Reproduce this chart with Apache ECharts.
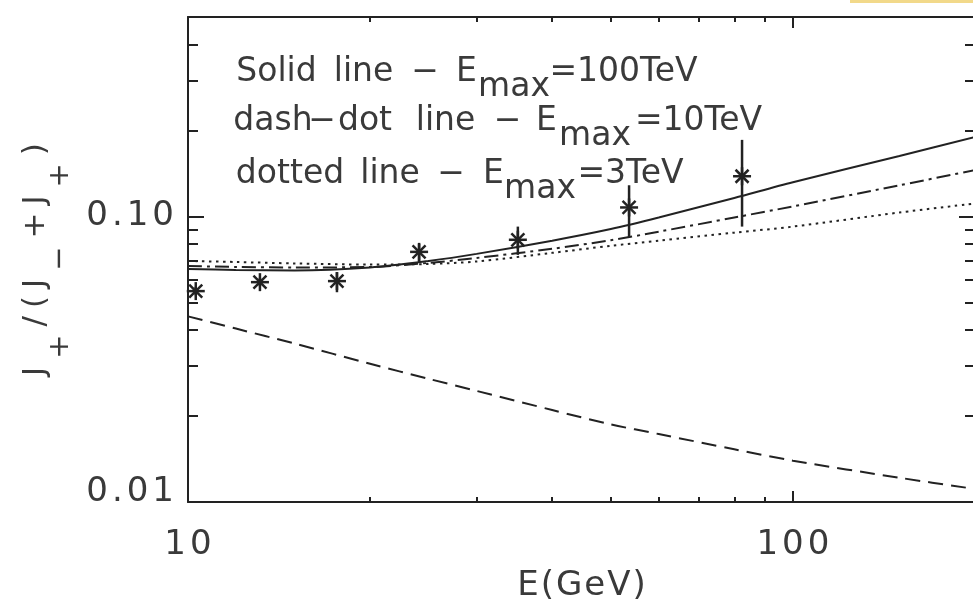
<!DOCTYPE html>
<html><head><meta charset="utf-8">
<script src="https://cdn.jsdelivr.net/npm/echarts@6/dist/echarts.min.js"></script>
<style>html,body{margin:0;padding:0;background:#fff}#c{width:973px;height:608px}</style>
</head><body><div id="c"></div>
<script>
// ---- data ----
const energies = [10, 12, 15, 20, 25, 30, 40, 50, 60, 80, 100, 150, 200];
const solidLine = [0.0655, 0.0650, 0.0647, 0.0663, 0.0699, 0.0740, 0.0823, 0.0904, 0.0992, 0.1162, 0.1319, 0.163, 0.190];
const dashDotLine = [0.0671, 0.0666, 0.0663, 0.0666, 0.0688, 0.0716, 0.0771, 0.0826, 0.0885, 0.0992, 0.1085, 0.1287, 0.1454];
const dottedLine = [0.0699, 0.0693, 0.0685, 0.0679, 0.0682, 0.0696, 0.0746, 0.0790, 0.0823, 0.0878, 0.0922, 0.1033, 0.1111];
const dashedLine = [0.0447, 0.0405, 0.0359, 0.0305, 0.0270, 0.0245, 0.0210, 0.0187, 0.0173, 0.0153, 0.01396, 0.01216, 0.01111];
const pointE = [10.3, 13.15, 17.63, 24.1, 35.1, 53.6, 82.4];
const pointRatio = [0.0548, 0.0589, 0.0594, 0.0752, 0.0829, 0.1076, 0.1384];
const pointLow = [0.0530, 0.0570, 0.0543, 0.0693, 0.0734, 0.0843, 0.0922];
const pointHigh = [0.0567, 0.0610, 0.0639, 0.0803, 0.0922, 0.1287, 0.1856];
const xMajorTicks = [10, 100];
const xTickLabels = ['10', '100'];
const xMinorTicks = [20, 30, 40, 50, 60, 70, 80, 90, 200];
const yMajorTicks = [0.01, 0.1];
const yTickLabels = ['0.01', '0.10'];
const yMinorTicks = [0.02, 0.03, 0.04, 0.05, 0.06, 0.07, 0.08, 0.09, 0.2, 0.3, 0.4];

const FONT = 'DejaVu Sans';
const INK = '#222';
const TXT = '#3a3a3a';

function spread(str, style) {
  return Array.from(str).map(ch => '{' + style + '|' + ch + '}').join('');
}
function lookup(v, ticks, labels) {
  for (let i = 0; i < ticks.length; i++) {
    if (Math.abs(v - ticks[i]) / ticks[i] < 1e-6) return labels[i];
  }
  return '';
}
function xAx(position, ticks, len, main) {
  return {
    type: 'log', logBase: 10, min: 10, max: 200, position: position,
    axisLine: {show: main, onZero: false, lineStyle: {color: INK, width: 2}},
    axisTick: {show: true, inside: true, length: len, customValues: ticks, lineStyle: {color: INK, width: 2}},
    axisLabel: {show: false},
    splitLine: {show: false}, minorTick: {show: false}, minorSplitLine: {show: false}
  };
}
function yAx(position, ticks, len, main) {
  return {
    type: 'log', logBase: 10, min: 0.01, max: 0.5, position: position,
    axisLine: {show: main, onZero: false, lineStyle: {color: INK, width: 2}},
    axisTick: {show: true, inside: true, length: len, customValues: ticks, lineStyle: {color: INK, width: 2}},
    axisLabel: {show: false},
    splitLine: {show: false}, minorTick: {show: false}, minorSplitLine: {show: false}
  };
}

const xBottom = xAx('bottom', xMajorTicks, 11, true);
xBottom.axisLabel = {
  show: true, customValues: xMajorTicks, margin: 26,
  formatter: v => spread(lookup(v, xMajorTicks, xTickLabels), 'c'),
  rich: {c: {fontSize: 34, fontFamily: FONT, color: TXT, padding: [0, 2, 0, 2]}}
};
xBottom.name = spread('E(GeV)', 'c');
xBottom.nameLocation = 'middle';
xBottom.nameGap = 67;
xBottom.nameTextStyle = {rich: {c: {fontSize: 34, fontFamily: FONT, color: TXT, padding: [0, 1, 0, 1]}}};

const yLeft = yAx('left', yMajorTicks, 16, true);
yLeft.axisLabel = {
  show: true, customValues: yMajorTicks, margin: 12,
  formatter: v => {
    const t = lookup(v, yMajorTicks, yTickLabels);
    return spread(t, v < 0.05 ? 'b' : 'c');
  },
  rich: {
    c: {fontSize: 34, fontFamily: FONT, color: TXT, padding: [0, 2, 0, 2]},
    b: {fontSize: 34, fontFamily: FONT, color: TXT, padding: [0, 2, 20, 2]}
  }
};
function yName() {
  const parts = [['n', 'J'], ['s', '+'], ['n', '/'], ['n', '('], ['n', 'J'], ['s', '−'], ['n', '+'], ['n', 'J'], ['s', '+'], ['n', ')']];
  return parts.map(p => '{' + p[0] + '|' + p[1] + '}').join('');
}
yLeft.name = yName();
yLeft.nameLocation = 'middle';
yLeft.nameGap = 110;
yLeft.nameTextStyle = {rich: {
  n: {fontSize: 31, fontFamily: FONT, color: TXT, padding: [0, 4, 0, 4], verticalAlign: 'top'},
  s: {fontSize: 29, fontFamily: FONT, color: TXT, padding: [26, 4, 0, 4], verticalAlign: 'bottom'}
}};

function lineSeries(vals, type) {
  return {
    type: 'line', data: energies.map((e, i) => [e, vals[i]]),
    showSymbol: false, symbol: 'none', smooth: 0.3, silent: true, z: 3,
    lineStyle: {color: INK, width: 2, type: type}
  };
}

const legendRows = [
  {base: 83, parts: [['Solid', 276.5], ['line', 363.5], ['−', 425], ['E', 466.5], ['max', 514, true], ['=100TeV', 623.5]]},
  {base: 132, parts: [['dash', 273], ['−', 322], ['dot', 365], ['line', 445.5], ['−', 507.5], ['E', 546.5], ['max', 595, true], ['=10TeV', 698.5]]},
  {base: 185, parts: [['dotted', 290], ['line', 390], ['−', 451], ['E', 493.5], ['max', 540, true], ['=3TeV', 630.5]]}
];
const graphics = [
  {type: 'rect', left: 850, top: 0, shape: {width: 123, height: 3}, style: {fill: '#f2d98a'}, silent: true}
];
legendRows.forEach(row => {
  row.parts.forEach(p => {
    graphics.push({
      type: 'text', x: p[1], y: row.base - 11 + (p[2] ? 15 : 0), silent: true, z: 10,
      style: {text: p[0], fontSize: 33, fontFamily: FONT, fill: TXT, align: 'center', verticalAlign: 'middle'}
    });
  });
});

const chart = echarts.init(document.getElementById('c'), null, {renderer: 'canvas'});
chart.setOption({
  backgroundColor: '#fff',
  animation: false,
  grid: {left: 188, right: -2, top: 17, bottom: 106, containLabel: false, outerBoundsMode: 'none'},
  xAxis: [xBottom, xAx('bottom', xMinorTicks, 5, false), xAx('top', xMajorTicks, 11, true), xAx('top', xMinorTicks, 5, false)],
  yAxis: [yLeft, yAx('left', yMinorTicks, 10, false), yAx('right', yMajorTicks, 16, true), yAx('right', yMinorTicks, 10, false)],
  graphic: graphics,
  series: [
    lineSeries(solidLine, 'solid'),
    lineSeries(dashDotLine, [14, 5, 3, 5]),
    lineSeries(dottedLine, [2.5, 4.5]),
    lineSeries(dashedLine, [15, 8]),
    {
      type: 'custom', silent: true, z: 4,
      data: pointE.map((e, i) => [e, pointRatio[i], pointLow[i], pointHigh[i]]),
      encode: {x: 0, y: 1},
      renderItem: function (params, api) {
        const x = api.value(0);
        const c = api.coord([x, api.value(1)]);
        const lo = api.coord([x, api.value(2)]);
        const hi = api.coord([x, api.value(3)]);
        const r = 9, d = 6.5;
        const st = {stroke: INK, lineWidth: 2.5};
        const seg = (x1, y1, x2, y2) => ({type: 'line', shape: {x1: x1, y1: y1, x2: x2, y2: y2}, style: st});
        return {type: 'group', children: [
          seg(c[0], hi[1], c[0], lo[1]),
          seg(c[0] - r, c[1], c[0] + r, c[1]),
          seg(c[0], c[1] - r, c[0], c[1] + r),
          seg(c[0] - d, c[1] - d, c[0] + d, c[1] + d),
          seg(c[0] - d, c[1] + d, c[0] + d, c[1] - d)
        ]};
      }
    }
  ]
});
</script></body></html>
